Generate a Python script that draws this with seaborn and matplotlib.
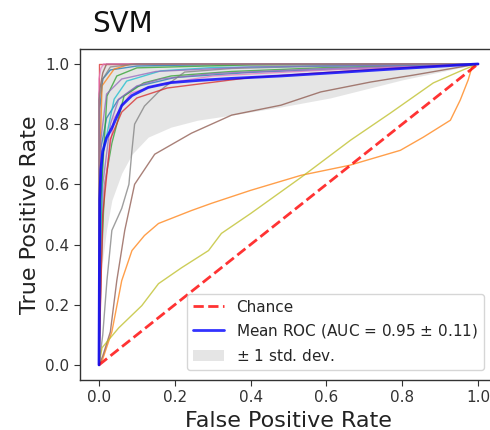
import matplotlib
matplotlib.use("Agg")
import matplotlib.pyplot as plt
import seaborn as sns
import numpy as np

# ---------------- data ----------------
title = "SVM"
x_label = "False Positive Rate"
y_label = "True Positive Rate"
ticks = [0.0, 0.2, 0.4, 0.6, 0.8, 1.0]

# individual fold ROC curves (colour cycle order)
fpr_c0 = [0, 0.005, 0.02, 0.05, 0.1, 0.2, 0.4, 0.7, 1.0]
tpr_c0 = [0, 0.72, 0.82, 0.88, 0.925, 0.955, 0.972, 0.986, 1.0]
fpr_c1 = [0, 0.01, 0.034, 0.06, 0.087, 0.12, 0.157, 0.244, 0.297, 0.40, 0.533, 0.66, 0.795, 0.856, 0.927, 0.953, 0.974, 0.984, 1.0]
tpr_c1 = [0, 0.02, 0.11, 0.28, 0.38, 0.43, 0.47, 0.513, 0.537, 0.58, 0.63, 0.663, 0.713, 0.757, 0.813, 0.88, 0.947, 0.99, 1.0]
fpr_c2 = [0, 0.005, 0.015, 0.034, 0.055, 0.066, 0.118, 0.19, 0.35, 0.6, 1.0]
tpr_c2 = [0, 0.3, 0.6, 0.737, 0.837, 0.893, 0.937, 0.96, 0.975, 0.988, 1.0]
fpr_c3 = [0, 0, 1.0]
tpr_c3 = [0, 1.0, 1.0]
fpr_c4 = [0, 0.01, 0.03, 0.052, 0.1, 0.163, 0.3, 0.6, 1.0]
tpr_c4 = [0, 0.6, 0.8, 0.883, 0.927, 0.95, 0.968, 0.985, 1.0]
fpr_c5 = [0, 0.01, 0.03, 0.047, 0.068, 0.094, 0.147, 0.244, 0.35, 0.48, 0.585, 0.717, 0.83, 1.0]
tpr_c5 = [0, 0.03, 0.11, 0.28, 0.447, 0.60, 0.70, 0.77, 0.83, 0.863, 0.907, 0.94, 0.963, 1.0]
fpr_c6 = [0, 0.01, 0.04, 0.084, 0.163, 0.3, 0.6, 1.0]
tpr_c6 = [0, 0.55, 0.82, 0.903, 0.933, 0.96, 0.98, 1.0]
fpr_c7 = [0, 0.01, 0.021, 0.034, 0.06, 0.079, 0.087, 0.094, 0.12, 0.157, 0.19, 0.226, 0.35, 0.6, 1.0]
tpr_c7 = [0, 0.1, 0.28, 0.447, 0.52, 0.60, 0.713, 0.80, 0.86, 0.907, 0.94, 0.973, 0.985, 0.993, 1.0]
fpr_c8 = [0, 0.008, 0.052, 0.113, 0.157, 0.218, 0.289, 0.323, 0.40, 0.533, 0.664, 0.769, 0.882, 0.96, 1.0]
tpr_c8 = [0, 0.057, 0.123, 0.197, 0.27, 0.323, 0.38, 0.437, 0.503, 0.623, 0.747, 0.837, 0.937, 0.98, 1.0]
fpr_c9 = [0, 0.01, 0.04, 0.073, 0.163, 0.3, 0.6, 1.0]
tpr_c9 = [0, 0.7, 0.883, 0.943, 0.977, 0.988, 0.993, 1.0]
fpr_d0 = [0, 0.002, 0.01, 0.03, 0.1, 0.3, 1.0]
tpr_d0 = [0, 0.85, 0.95, 0.98, 0.993, 0.998, 1.0]
fpr_d1 = [0, 0.003, 0.008, 0.04, 0.084, 1.0]
tpr_d1 = [0, 0.7, 0.927, 0.983, 1.0, 1.0]
fpr_d2 = [0, 0.005, 0.021, 0.047, 0.1, 0.4, 1.0]
tpr_d2 = [0, 0.55, 0.893, 0.96, 0.987, 0.997, 1.0]
fpr_d3 = [0, 0.01, 0.03, 0.06, 0.1, 0.18, 0.4, 0.7, 1.0]
tpr_d3 = [0, 0.5, 0.75, 0.84, 0.887, 0.92, 0.955, 0.98, 1.0]
fpr_d4 = [0, 0.005, 0.02, 0.06, 0.15, 0.4, 1.0]
tpr_d4 = [0, 0.75, 0.9, 0.95, 0.975, 0.99, 1.0]
fpr_d5 = [0, 0.0, 0.01, 0.02, 1.0]
tpr_d5 = [0, 0.9, 0.97, 1.0, 1.0]
fpr_d6 = [0, 0.0, 0.005, 0.012, 1.0]
tpr_d6 = [0, 0.95, 0.985, 1.0, 1.0]
fpr_d7 = [0, 0.0, 0.01, 0.03, 0.1, 1.0]
tpr_d7 = [0, 0.88, 0.95, 0.99, 1.0, 1.0]

fold_fprs = [fpr_c0, fpr_c1, fpr_c2, fpr_c3, fpr_c4, fpr_c5, fpr_c6, fpr_c7, fpr_c8, fpr_c9,
             fpr_d0, fpr_d1, fpr_d2, fpr_d3, fpr_d4, fpr_d5, fpr_d6, fpr_d7]
fold_tprs = [tpr_c0, tpr_c1, tpr_c2, tpr_c3, tpr_c4, tpr_c5, tpr_c6, tpr_c7, tpr_c8, tpr_c9,
             tpr_d0, tpr_d1, tpr_d2, tpr_d3, tpr_d4, tpr_d5, tpr_d6, tpr_d7]

# mean ROC and std band
mean_fpr = [0, 0.002, 0.005, 0.01, 0.02, 0.034, 0.06, 0.087, 0.13, 0.19, 0.26, 0.35, 0.48, 0.61, 0.8, 1.0]
mean_tpr = [0, 0.55, 0.65, 0.71, 0.755, 0.787, 0.862, 0.895, 0.922, 0.938, 0.945, 0.952, 0.96, 0.97, 0.985, 1.0]
tpr_lower = [0, 0.25, 0.30, 0.35, 0.45, 0.547, 0.637, 0.70, 0.757, 0.79, 0.813, 0.83, 0.857, 0.887, 0.947, 1.0]
tpr_upper = [0, 0.85, 1.0, 1.0, 1.0, 1.0, 1.0, 1.0, 1.0, 1.0, 1.0, 1.0, 1.0, 1.0, 1.0, 1.0]
mean_label = "Mean ROC (AUC = 0.95 $\\pm$ 0.11)"
chance_x = [0, 1]
chance_y = [0, 1]

# ---------------- plot ----------------
sns.set_style("ticks")
plt.rcParams["font.family"] = ["DejaVu Sans"]

fig = plt.figure(figsize=(4.9, 4.3), dpi=100)
ax = fig.add_axes([0.1633, 0.1163, 0.851, 0.770])

palette = sns.color_palette("tab10")
for i, (fx, ty) in enumerate(zip(fold_fprs, fold_tprs)):
    sns.lineplot(x=fx, y=ty, estimator=None, sort=False, color=palette[i % 10],
                 lw=1, alpha=0.75, ax=ax)

sns.lineplot(x=chance_x, y=chance_y, estimator=None, sort=False, color="r",
             linestyle="--", lw=2, alpha=0.8, label="Chance", ax=ax)
sns.lineplot(x=mean_fpr, y=mean_tpr, estimator=None, sort=False, color="b",
             lw=2, alpha=0.8, label=mean_label, ax=ax)
ax.fill_between(mean_fpr, tpr_lower, tpr_upper, color="grey", alpha=0.2,
                lw=0, label="$\\pm$ 1 std. dev.")

ax.set_xlim(-0.05, 1.05)
ax.set_ylim(-0.05, 1.05)
ax.set_xticks(ticks)
ax.set_yticks(ticks)
ax.tick_params(labelsize=11, colors="#333333", length=4)
for s in ax.spines.values():
    s.set_color("#333333")
    s.set_linewidth(1.0)
ax.set_xlabel(x_label, fontsize=16, color="#222222")
ax.set_ylabel(y_label, fontsize=16, color="#222222")

leg = ax.legend(loc="lower right", bbox_to_anchor=(0.969, 0.03), borderaxespad=0,
                fontsize=11, frameon=True)

fig.text(92 / 490, 1 - 32 / 430, title, fontsize=20, color="#111111", va="baseline")

fig.savefig("out.png", dpi=100)
